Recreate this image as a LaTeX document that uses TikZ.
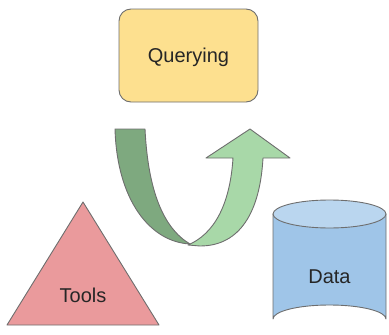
\documentclass[tikz,border=0pt]{standalone}
\usepackage{fontspec}
\setmainfont{Liberation Sans}
\definecolor{qyel}{HTML}{FDE08F}
\definecolor{tred}{HTML}{EA9A9C}
\definecolor{dblue}{HTML}{9FC5E8}
\definecolor{dblue2}{HTML}{BAD6EF}
\definecolor{gdark}{HTML}{7EA97F}
\definecolor{glight}{HTML}{A8D8A8}
\definecolor{edge}{HTML}{6E6E6E}
\begin{document}
\begin{tikzpicture}[x=1pt,y=-1pt,
  shapeline/.style={draw=edge,line width=0.9pt,line join=round},
  lbl/.style={font=\fontsize{20}{24}\selectfont,text=black!85}]
\useasboundingbox (0,0) rectangle (389,335);
% Querying box
\draw[shapeline,fill=qyel,rounded corners=12pt] (119,9) rectangle (258,102);
\node[lbl] (q) at (188.5,57) {Querying};
% Arrow dark part
\draw[shapeline,fill=gdark] (115,129) -- (145,129)
  .. controls (148,190) and (163,228) .. (190,244)
  .. controls (150,242) and (117,200) .. (115,129) -- cycle;
% Arrow light part
\draw[shapeline,fill=glight] (233,158) -- (206,158) -- (250,129) -- (290,158) -- (263,158)
  .. controls (260,212) and (240,246) .. (200,246)
  -- (188,245)
  .. controls (214,234) and (230,205) .. (233,158) -- cycle;
% Tools triangle
\draw[shapeline,fill=tred] (83,202) -- (159,325) -- (7,325) -- cycle;
\node[lbl] (t) at (83,295) {Tools};
% Data cylinder
\draw[shapeline,fill=dblue] (273,214) -- (273,319) arc[start angle=180,end angle=360,x radius=56.5,y radius=14] -- (386,214) -- cycle;
\draw[shapeline,fill=dblue2] (329.5,214) ellipse[x radius=56.5,y radius=14];
\node[lbl] (d) at (329.5,277) {Data};
\end{tikzpicture}
\end{document}
